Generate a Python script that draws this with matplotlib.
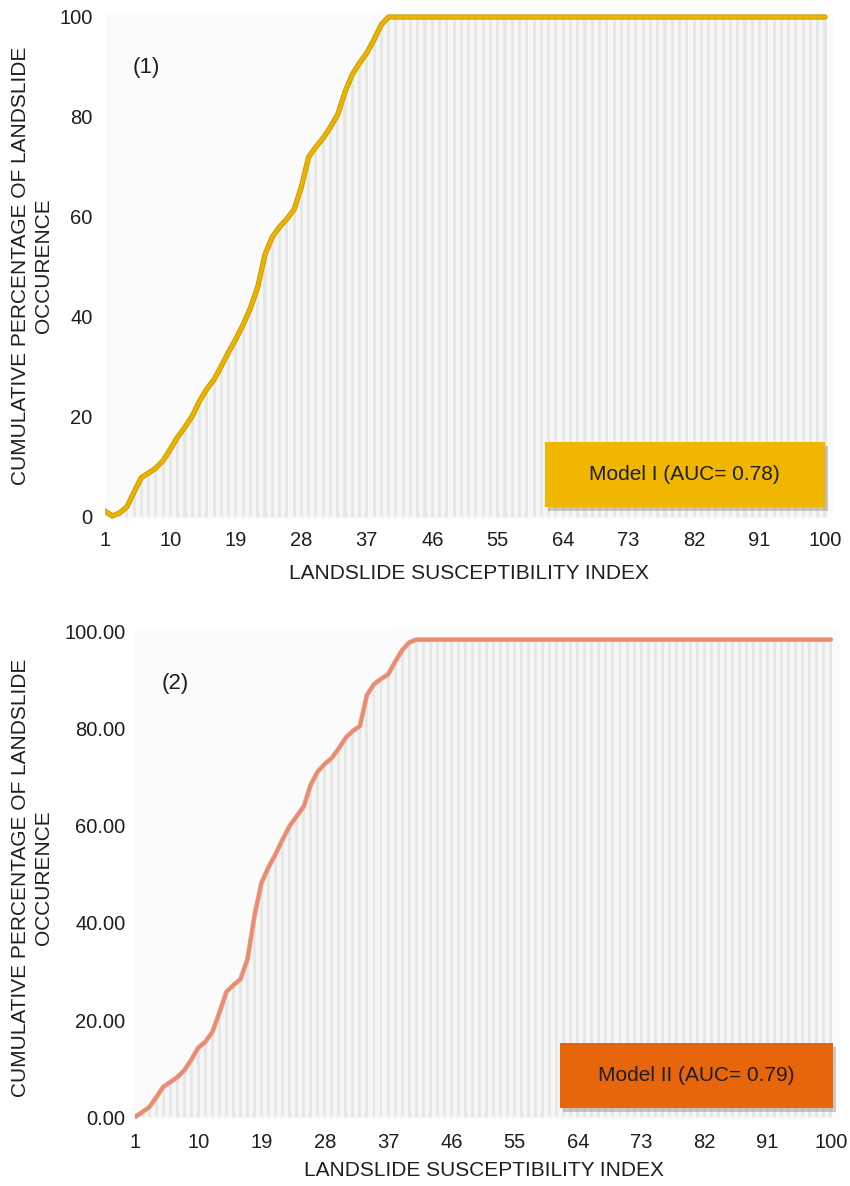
import numpy as np
import matplotlib
matplotlib.use("Agg")
import matplotlib.pyplot as plt
from matplotlib.patches import FancyBboxPatch
import matplotlib.patheffects as pe

plt.rcParams['font.family'] = ['Liberation Sans', 'DejaVu Sans']

# Landslide susceptibility index classes
index = list(range(1, 101))
x_ticks = [1, 10, 19, 28, 37, 46, 55, 64, 73, 82, 91, 100]
y_ticks = [0, 20, 40, 60, 80, 100]

# Cumulative percentage of landslide occurrence, model I
model1_head = [1.2, 0.2, 0.8, 2.0, 5.0, 7.9, 8.8, 9.8, 11.3, 13.6,
               16.0, 18.0, 20.2, 23.2, 25.6, 27.5, 30.2, 33.0, 35.6, 38.5,
               41.8, 46.0, 52.5, 56.0, 58.0, 59.6, 61.5, 66.0, 72.0, 74.0,
               75.8, 78.0, 80.5, 85.0, 88.5, 90.8, 92.8, 95.5, 98.5, 100.0]
model1 = model1_head + [100.0] * (100 - len(model1_head))

# Cumulative percentage of landslide occurrence, model II
model2_head = [0.0, 1.0, 2.0, 4.0, 6.2, 7.2, 8.2, 9.6, 11.8, 14.3,
               15.5, 17.5, 21.5, 25.8, 27.2, 28.4, 32.5, 41.5, 48.3, 51.5,
               54.2, 57.2, 60.0, 62.0, 64.0, 68.5, 71.2, 72.8, 74.0, 76.0,
               78.2, 79.6, 80.6, 87.0, 89.2, 90.3, 91.2, 93.8, 96.2, 97.8,
               98.4]
model2 = model2_head + [98.4] * (100 - len(model2_head))

labels = ["Model I (AUC= 0.78)", "Model II (AUC= 0.79)"]
panel_tags = ["(1)", "(2)"]

W, H = 850, 1186
fig = plt.figure(figsize=(W / 100, H / 100), dpi=100)
fig.patch.set_facecolor("white")


def px_axes(left, top, right, bottom):
    return fig.add_axes([left / W, 1 - bottom / H, (right - left) / W, (bottom - top) / H])


TXT = "#1e1e1e"


def draw_panel(ax, values, line_color, edge_color, lw, xlim, ylim, fmt,
               box_color, box_text, box_rect, xpad, ypad):
    x = np.array(index)
    y = np.array(values)
    ax.set_facecolor("#fbfbfb")
    ax.fill_between(x, 0, y, color="#f6f6f6", lw=0, zorder=1)
    ax.bar(x, y, width=0.42, color="#e7e7e7", lw=0, zorder=2)
    ax.plot(x, y, color=line_color, lw=lw, solid_capstyle="round", zorder=5,
            path_effects=[pe.Stroke(linewidth=lw + 1.2, foreground=edge_color),
                          pe.Normal()])
    ax.set_xlim(*xlim)
    ax.set_ylim(*ylim)
    ax.set_xticks(x_ticks)
    ax.set_xticklabels([str(t) for t in x_ticks])
    ax.set_yticks(y_ticks)
    ax.set_yticklabels([fmt.format(t) for t in y_ticks])
    ax.tick_params(length=0, labelsize=14.5, colors=TXT)
    ax.tick_params(axis="x", pad=xpad)
    ax.tick_params(axis="y", pad=ypad)
    for s in ax.spines.values():
        s.set_visible(False)

    x0, y0, x1, y1 = box_rect
    shadow = FancyBboxPatch((x0 + 0.004, y0 - 0.008), x1 - x0, y1 - y0,
                            boxstyle="square,pad=0", transform=ax.transAxes,
                            fc="#7a6a55", ec="none", alpha=0.35, zorder=6)
    box = FancyBboxPatch((x0, y0), x1 - x0, y1 - y0, boxstyle="square,pad=0",
                         transform=ax.transAxes, fc=box_color, ec="none", zorder=7)
    ax.add_patch(shadow)
    ax.add_patch(box)
    ax.text((x0 + x1) / 2, (y0 + y1) / 2, box_text, transform=ax.transAxes,
            ha="center", va="center", fontsize=15, color=TXT, zorder=8)


ylabel = "CUMULATIVE PERCENTAGE OF LANDSLIDE\nOCCURENCE"
xlabel = "LANDSLIDE SUSCEPTIBILITY INDEX"

# Panel 1
ax1 = px_axes(105, 14, 833, 519)
draw_panel(ax1, model1, "#e8b400", "#c99600", 2.6, (1, 101.1), (-0.4, 100.6),
           "{:d}", "#f1b700", labels[0], (0.604, 0.024, 0.989, 0.152), 9, 9)
fig.text(146 / W, 1 - 67 / H, panel_tags[0], ha="center", va="center",
         fontsize=16, color=TXT)
fig.text(32 / W, 1 - 266 / H, ylabel, rotation=90, ha="center", va="center",
         multialignment="center", fontsize=15, color=TXT, linespacing=1.32)
fig.text(469 / W, 1 - 573 / H, xlabel, ha="center", va="center",
         fontsize=15, color=TXT)

# Panel 2
ax2 = px_axes(135, 627, 840, 1119)
draw_panel(ax2, model2, "#ec8a6e", "#e4a28f", 2.2, (1, 101.3), (-0.4, 101.0),
           "{:.2f}", "#e7650b", labels[1], (0.603, 0.022, 0.990, 0.154), 10, 7)
fig.text(175 / W, 1 - 683 / H, panel_tags[1], ha="center", va="center",
         fontsize=16, color=TXT)
fig.text(32 / W, 1 - 878 / H, ylabel, rotation=90, ha="center", va="center",
         multialignment="center", fontsize=15, color=TXT, linespacing=1.32)
fig.text(484 / W, 1 - 1170 / H, xlabel, ha="center", va="center",
         fontsize=15, color=TXT)

fig.savefig("out.png", dpi=100, facecolor="white")
